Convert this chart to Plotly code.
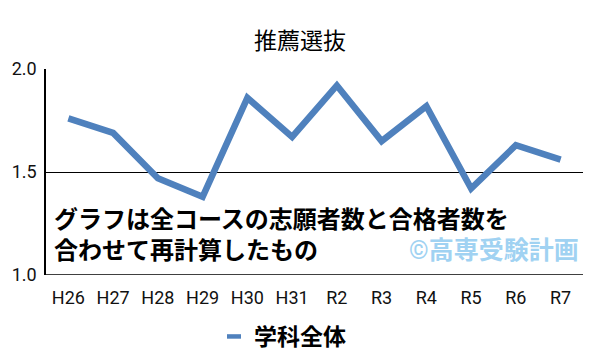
import plotly.graph_objects as go

categories = ["H26", "H27", "H28", "H29", "H30", "H31", "R2", "R3", "R4", "R5", "R6", "R7"]
values = [1.76, 1.69, 1.47, 1.38, 1.86, 1.67, 1.92, 1.65, 1.82, 1.42, 1.63, 1.56]
series_name = "学科全体"
title_text = "推薦選抜"
note_lines = ["グラフは全コースの志願者数と合格者数を", "合わせて再計算したもの"]
watermark = "©高専受験計画"
y_ticks = [1.0, 1.5, 2.0]

BLUE = "#4F81BD"
JP = "Noto Sans CJK JP"

W, H = 600, 360
L, R, T, B = 46, 17, 69, 85
PH = H - T - B
PW = W - L - R


def py(y_px):
    return (H - B - y_px) / PH


def px(x_px):
    return (x_px - L) / PW


fig = go.Figure()
fig.add_trace(go.Scatter(
    x=categories, y=values, mode="lines",
    line=dict(color=BLUE, width=6.5), showlegend=False, hoverinfo="skip",
))
fig.add_trace(go.Scatter(
    x=[None], y=[None], mode="markers", name="<b>" + series_name + "</b>",
    marker=dict(symbol="line-ew", size=10, line=dict(color=BLUE, width=4.5)),
    showlegend=True,
))

fig.update_layout(
    width=W, height=H,
    margin=dict(l=L, r=R, t=T, b=B, autoexpand=False),
    paper_bgcolor="white", plot_bgcolor="white",
    title=dict(text=title_text, x=0.5, xanchor="center", y=1 - 41 / H, yanchor="middle",
               font=dict(family=JP, size=23, color="#000000")),
    xaxis=dict(type="category", showgrid=False, showline=False, ticks="",
               tickfont=dict(family="Roboto", size=18, color="#111111"),
               ticklabelstandoff=10, automargin=False,
               range=[-0.5, len(categories) - 0.5]),
    yaxis=dict(range=[1.0, 2.0], tickvals=y_ticks, tickformat=".1f",
               showgrid=True, gridcolor="#000000", gridwidth=1,
               showline=True, linecolor="#000000", linewidth=1.5,
               zeroline=False, ticks="", ticklabelstandoff=4, automargin=False,
               tickfont=dict(family="Roboto", size=18, color="#111111")),
    legend=dict(orientation="h", x=px(214), xanchor="left", y=py(336.5), yanchor="middle",
                font=dict(family=JP, size=23, color="#000000"),
                itemwidth=30, bgcolor="rgba(0,0,0,0)"),
    font=dict(family=JP),
)

# bottom axis line at 1.0
fig.add_shape(type="line", xref="paper", yref="y", x0=0, x1=1, y0=1.0, y1=1.0,
              line=dict(color="#000000", width=1.5))

fig.add_annotation(text="<b>" + note_lines[0] + "</b><br><b>" + note_lines[1] + "</b>",
                   xref="paper", yref="paper", align="left",
                   x=px(52), y=py(235), xanchor="left", yanchor="middle",
                   showarrow=False,
                   font=dict(family="Roboto, " + JP, size=24, color="#000000"))
fig.add_annotation(text="<b>" + watermark + "</b>", xref="paper", yref="paper",
                   x=px(581), y=py(250), xanchor="right", yanchor="middle",
                   showarrow=False,
                   font=dict(family="Roboto, " + JP, size=25, color="#A0D2F2"))

fig.write_html("out.html")
